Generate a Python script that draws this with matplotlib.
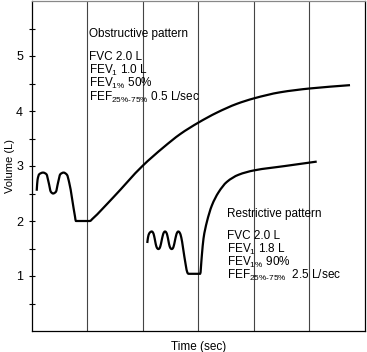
import matplotlib
matplotlib.use("Agg")
import matplotlib.pyplot as plt
from matplotlib.path import Path
from matplotlib.patches import PathPatch

plt.rcParams['font.family'] = ['Liberation Sans', 'DejaVu Sans']
plt.rcParams['mathtext.fontset'] = 'custom'
plt.rcParams['mathtext.rm'] = 'Liberation Sans'

# Obstructive spirogram (time units = grid divisions, volume in L)
obs_t = [0.085, 0.10, 0.13, 0.20, 0.26, 0.30, 0.34, 0.38, 0.43, 0.47, 0.51, 0.57,
         0.63, 0.67, 0.775, 0.79, 1.045, 1.08, 1.465, 1.99, 2.37, 2.67, 3.0, 3.33,
         3.69, 4.0, 4.47, 5.01, 5.73]
obs_v = [2.55, 2.75, 2.85, 2.88, 2.85, 2.70, 2.53, 2.50, 2.53, 2.70, 2.85, 2.88,
         2.84, 2.70, 2.08, 2.00, 2.00, 2.03, 2.43, 3.00, 3.34, 3.58, 3.79, 3.97,
         4.13, 4.23, 4.34, 4.41, 4.47]

# Restrictive spirogram
res_t = [2.077, 2.09, 2.11, 2.135, 2.157, 2.18, 2.20, 2.22, 2.24, 2.26, 2.277,
         2.295, 2.315, 2.335, 2.355, 2.375, 2.397, 2.42, 2.44, 2.46, 2.48, 2.50,
         2.517, 2.535, 2.555, 2.575, 2.595, 2.615, 2.637, 2.66, 2.69, 2.72, 2.77,
         2.80, 2.82, 3.03, 3.06, 3.09, 3.15, 3.24, 3.36, 3.51, 3.72, 4.0, 4.56, 5.13]
res_v = [1.60, 1.70, 1.77, 1.80, 1.81, 1.79, 1.73, 1.63, 1.54, 1.50, 1.49,
         1.50, 1.55, 1.64, 1.73, 1.79, 1.81, 1.79, 1.73, 1.63, 1.54, 1.50,
         1.49, 1.50, 1.55, 1.64, 1.73, 1.79, 1.81, 1.79, 1.70, 1.52, 1.20,
         1.06, 1.04, 1.04, 1.37, 1.68, 1.98, 2.28, 2.52, 2.71, 2.84, 2.92, 3.00, 3.08]

y_ticks = [1, 2, 3, 4, 5]
y_minor = [0.5, 1.5, 2.5, 3.5, 4.5, 5.5]
grid_x = [1, 2, 3, 4, 5]

obs_title = "Obstructive pattern"
obs_lines = ["FVC 2.0 L",
             "FEV$_\\mathregular{1}$ 1.0 L",
             "FEV$_\\mathregular{1\\%}$ 50%",
             "FEF$_\\mathregular{25\\%\\text{-}75\\%}$ 0.5 L/sec"]
res_title = "Restrictive pattern"
res_lines = ["FVC 2.0 L",
             "FEV$_\\mathregular{1}$ 1.8 L",
             "FEV$_\\mathregular{1\\%}$ 90%",
             "FEF$_\\mathregular{25\\%\\text{-}75\\%}$  2.5 L/sec"]


def smooth_path(x, y):
    """Monotone cubic (Fritsch-Carlson) Bezier path through the read points."""
    n = len(x)
    h = [x[i + 1] - x[i] for i in range(n - 1)]
    dl = [(y[i + 1] - y[i]) / h[i] for i in range(n - 1)]
    d = [0.0] * n
    d[0], d[-1] = dl[0], dl[-1]
    for k in range(1, n - 1):
        if dl[k - 1] * dl[k] <= 0:
            d[k] = 0.0
        else:
            w1 = 2 * h[k] + h[k - 1]
            w2 = h[k] + 2 * h[k - 1]
            d[k] = (w1 + w2) / (w1 / dl[k - 1] + w2 / dl[k])
    verts = [(x[0], y[0])]
    codes = [Path.MOVETO]
    for k in range(n - 1):
        verts += [(x[k] + h[k] / 3, y[k] + d[k] * h[k] / 3),
                  (x[k + 1] - h[k] / 3, y[k + 1] - d[k + 1] * h[k] / 3),
                  (x[k + 1], y[k + 1])]
        codes += [Path.CURVE4] * 3
    return Path(verts, codes)


fig = plt.figure(figsize=(3.67, 3.52), dpi=100)
ax = fig.add_axes([32/367, 21/352, 333/367, 330/352])
ax.set_xlim(0, 6)
ax.set_ylim(0, 6)

for gx in grid_x:
    ax.axvline(gx, color='#444444', lw=0.8, zorder=1)

for tx, vy in ((obs_t, obs_v), (res_t, res_v)):
    ax.add_patch(PathPatch(smooth_path(tx, vy), fill=False, edgecolor='black',
                           lw=1.6, joinstyle='round', capstyle='butt', zorder=3))

ax.set_xticks([])
ax.set_yticks(y_ticks)
ax.set_yticks(y_minor, minor=True)
ax.tick_params(axis='y', which='both', direction='inout', length=5, width=0.8,
               labelsize=9, pad=4)
for s in ax.spines.values():
    s.set_linewidth(0.9)
ax.spines['top'].set_color('#888888')

ax.set_ylabel("Volume (L)", fontsize=8)
ax.yaxis.set_label_coords(-0.05, 0.5)
ax.set_xlabel("Time (sec)", fontsize=8.5, labelpad=7)

ax.text(1.02, 5.40, obs_title, fontsize=8.5, va='center', ha='left', zorder=4)
for i, line in enumerate(obs_lines):
    ax.text(1.02, 4.98 - i * 0.242, line, fontsize=8.5, va='center', ha='left', zorder=4)

ax.text(3.52, 2.13, res_title, fontsize=8.5, va='center', ha='left', zorder=4)
for i, line in enumerate(res_lines):
    ax.text(3.52, 1.72 - i * 0.237, line, fontsize=8.5, va='center', ha='left', zorder=4)

fig.savefig("out.png", dpi=100)
